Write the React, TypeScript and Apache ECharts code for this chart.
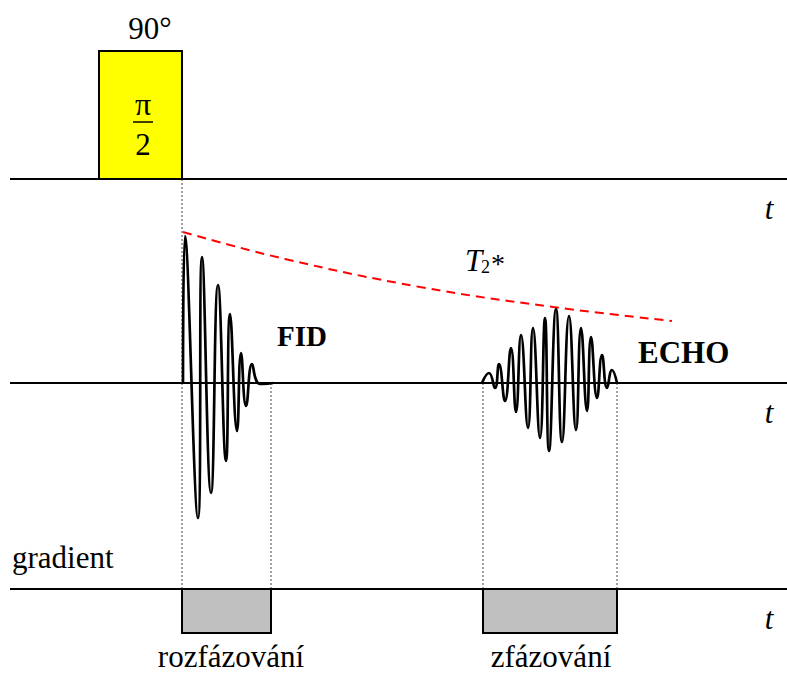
import { useEffect, useRef } from "react";
import * as echarts from "echarts";

// Diagram coordinate space (x: 0..787, y: 0..675 downward)
const baselineYs = [179, 383, 589];
const baselineX = [10, 787];
const timeLabel = "t";

// RF pulse (x0, y0, x1, y1)
const rfPulse = [[99, 51, 182, 179]];
// Gradient lobes (x0, y0, x1, y1)
const gradientLobes = [
  [182, 589, 271, 633],
  [483, 589, 617, 633],
];

// Dotted guides: [x, yTop, yBottom]
const guides = [
  [182, 179, 589],
  [271, 383, 589],
  [483, 383, 589],
  [617, 383, 589],
];

// FID extrema
const fidPoints = [
  [183, 383], [185, 236], [198, 518], [202, 257], [211, 493], [218, 285],
  [226, 461], [230, 314], [237, 431], [241, 353], [246, 406], [252, 364],
  [257, 382], [262, 384], [273, 383],
];

// Echo extrema
const echoPoints = [
  [482, 383], [489, 373], [495, 388], [499, 364], [505, 401], [511, 348],
  [516, 412], [521, 335], [528, 428], [533, 328], [540, 438], [545, 318],
  [549, 451], [556, 309], [562, 442], [569, 316], [576, 430], [581, 328],
  [587, 411], [591, 337], [597, 398], [602, 355], [607, 388], [612, 370],
  [617, 383],
];

// T2* decay envelope
const t2Envelope = [
  [183, 232], [285, 259], [420, 287], [553, 307], [672, 321],
];

const gradientText = "gradient";
const lobeLabels = ["rozfázování", "zfázování"];
const signalLabels = ["FID", "ECHO"];
const pulseLabel = "90°";

const SERIF = "Liberation Serif";

export default function App() {
  const ref = useRef<HTMLDivElement>(null);

  useEffect(() => {
    if (!ref.current) return;
    const chart = echarts.init(ref.current, undefined, { renderer: "svg" });

    const rectRender = (fill: string) => (params: any, api: any) => {
      const p0 = api.coord([api.value(0), api.value(1)]);
      const p1 = api.coord([api.value(2), api.value(3)]);
      return {
        type: "rect",
        shape: {
          x: Math.min(p0[0], p1[0]),
          y: Math.min(p0[1], p1[1]),
          width: Math.abs(p1[0] - p0[0]),
          height: Math.abs(p1[1] - p0[1]),
        },
        style: { fill, stroke: "#000", lineWidth: 2 },
      };
    };

    const series: any[] = [];

    guides.forEach((g) => {
      series.push({
        type: "line",
        data: [[g[0], g[1]], [g[0], g[2]]],
        symbol: "none",
        silent: true,
        lineStyle: { color: "#444", width: 1, type: [2, 2] },
        z: 1,
      });
    });

    baselineYs.forEach((y) => {
      series.push({
        type: "line",
        data: [[baselineX[0], y], [baselineX[1], y]],
        symbol: "none",
        silent: true,
        lineStyle: { color: "#000", width: 2 },
        z: 2,
      });
    });

    series.push({
      type: "line",
      data: t2Envelope,
      smooth: 0.4,
      symbol: "none",
      lineStyle: { color: "#ff0000", width: 2, type: [9, 6] },
      z: 3,
    });

    series.push({
      type: "line",
      data: fidPoints,
      smooth: 0.5,
      symbol: "none",
      lineStyle: { color: "#000", width: 2.7 },
      z: 4,
    });

    series.push({
      type: "line",
      data: echoPoints,
      smooth: 0.5,
      symbol: "none",
      lineStyle: { color: "#000", width: 2.7 },
      z: 4,
    });

    series.push({
      type: "custom",
      data: rfPulse,
      renderItem: rectRender("#ffff00"),
      z: 5,
    });

    series.push({
      type: "custom",
      data: gradientLobes,
      renderItem: rectRender("#c0c0c0"),
      z: 5,
    });

    const txt = (
      text: string,
      x: number,
      y: number,
      size: number,
      opts: { align?: string; weight?: string; italic?: boolean } = {}
    ) => ({
      type: "text",
      x,
      y,
      z: 10,
      style: {
        text,
        fontFamily: SERIF,
        fontSize: size,
        fontWeight: opts.weight || "normal",
        fontStyle: opts.italic ? "italic" : "normal",
        fill: "#000",
        align: opts.align || "center",
        verticalAlign: "middle",
      },
    });

    const graphic: any[] = [
      txt(pulseLabel, 150, 28, 31),
      txt("π", 143, 104, 32),
      {
        type: "line",
        z: 10,
        shape: { x1: 133, y1: 122, x2: 153, y2: 122 },
        style: { stroke: "#000", lineWidth: 1.5 },
      },
      txt("2", 143, 144, 31),
      ...baselineYs.map((y) => txt(timeLabel, 769, y + 29, 31, { italic: true })),
      txt(gradientText, 12, 557, 31, { align: "left" }),
      txt(lobeLabels[0], 231, 656, 31),
      txt(lobeLabels[1], 551, 656, 31),
      txt(signalLabels[0], 277, 336, 29, { align: "left", weight: "bold" }),
      txt(signalLabels[1], 638, 352, 31, { align: "left", weight: "bold" }),
      txt("T", 465, 260, 31, { align: "left", italic: true }),
      txt("2", 481, 267, 18, { align: "left" }),
      txt("*", 491, 263, 28, { align: "left" }),
    ];

    chart.setOption({
      animation: false,
      backgroundColor: "#fff",
      grid: { left: 0, right: 0, top: 0, bottom: 0 },
      xAxis: { type: "value", min: 0, max: 787, show: false },
      yAxis: { type: "value", min: 0, max: 675, inverse: true, show: false },
      series,
      graphic,
    });

    return () => chart.dispose();
  }, []);

  return (
    <div
      ref={ref}
      style={{ position: "absolute", left: 0, top: 0, width: 787, height: 675 }}
    />
  );
}
